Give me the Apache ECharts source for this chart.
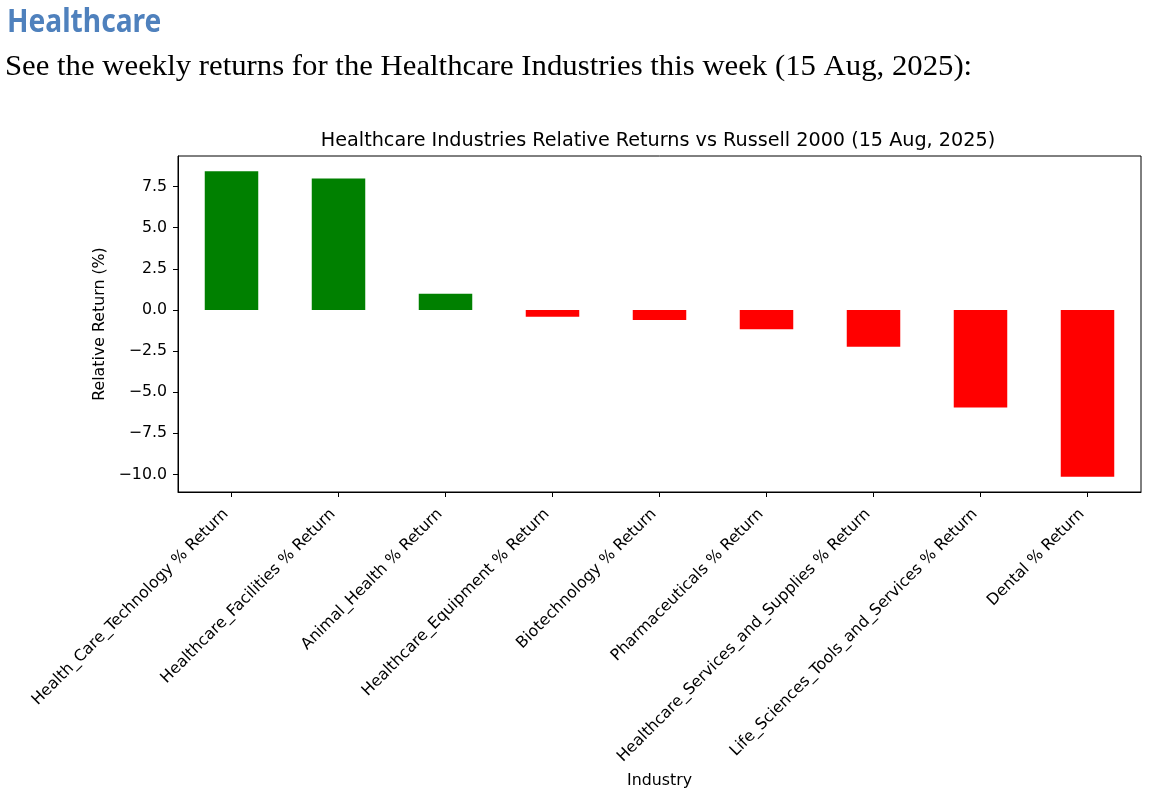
<!DOCTYPE html>
<html>
<head>
<meta charset="utf-8">
<script src="https://cdn.jsdelivr.net/npm/echarts@6/dist/echarts.min.js"></script>
<style>
html,body{margin:0;padding:0;background:#fff;}
#chart{width:1150px;height:798px;}
</style>
</head>
<body>
<div id="chart"></div>
<script>
const categories = [
  "Health_Care_Technology % Return",
  "Healthcare_Facilities % Return",
  "Animal_Health % Return",
  "Healthcare_Equipment % Return",
  "Biotechnology % Return",
  "Pharmaceuticals % Return",
  "Healthcare_Services_and_Supplies % Return",
  "Life_Sciences_Tools_and_Services % Return",
  "Dental % Return"
];
const relativeReturns = [8.43, 7.99, 0.98, -0.41, -0.61, -1.18, -2.24, -5.93, -10.14];
const yTickValues = [-10, -7.5, -5, -2.5, 0, 2.5, 5, 7.5];

const dataMax = Math.max(...relativeReturns);
const dataMin = Math.min(...relativeReturns);
const margin = (dataMax - dataMin) * 0.05;

const chart = echarts.init(document.getElementById('chart'), null, {renderer: 'canvas'});
const fmt = v => (v < 0 ? '\u2212' : '') + Math.abs(v).toFixed(1);
const LBL = 15.8;

chart.setOption({
  animation: false,
  backgroundColor: '#fff',
  graphic: [
    {type: 'text', x: 7, y: 23, scaleX: 0.88,
     style: {text: 'Healthcare', x: 0, y: 0, font: 'bold 32px "Noto Sans"', fill: '#4f81bd', verticalAlign: 'middle'}},
    {type: 'text', x: 5, y: 67, scaleX: 1.06,
     style: {text: 'See the weekly returns for the Healthcare Industries this week (15 Aug, 2025):', x: 0, y: 0,
             font: '29px "Liberation Serif"', fill: '#000', verticalAlign: 'middle'}}
  ],
  title: [
    {text: 'Healthcare Industries Relative Returns vs Russell 2000 (15 Aug, 2025)', left: 653, top: 127, textAlign: 'center',
     textStyle: {fontFamily: 'DejaVu Sans', fontWeight: 'normal', fontSize: 19.2, color: '#000'}}
  ],
  grid: {left: 178, right: 9, top: 156, bottom: 306, show: true, borderColor: '#000', borderWidth: 1, backgroundColor: 'transparent'},
  xAxis: {
    type: 'category',
    data: categories,
    name: 'Industry',
    nameLocation: 'middle',
    nameGap: 281,
    nameTextStyle: {fontFamily: 'DejaVu Sans', fontSize: LBL, color: '#000'},
    axisLine: {show: true, onZero: false, lineStyle: {color: '#000', width: 1}},
    axisTick: {show: true, alignWithLabel: true, length: 5, lineStyle: {color: '#000'}},
    axisLabel: {rotate: 45, interval: 0, margin: 14, padding: [0, 8, 0, 0], fontFamily: 'DejaVu Sans', fontSize: LBL, color: '#000'},
    splitLine: {show: false}
  },
  yAxis: {
    type: 'value',
    min: dataMin - margin,
    max: dataMax + margin,
    name: 'Relative Return (%)',
    nameLocation: 'middle',
    nameRotate: 90,
    nameGap: 62,
    nameTextStyle: {fontFamily: 'DejaVu Sans', fontSize: LBL, color: '#000'},
    axisLine: {show: true, onZero: false, lineStyle: {color: '#000', width: 1}},
    axisTick: {show: true, length: 5, lineStyle: {color: '#000'}, customValues: yTickValues},
    axisLabel: {fontFamily: 'DejaVu Sans', fontSize: LBL, color: '#000', margin: 11, customValues: yTickValues, formatter: fmt},
    splitLine: {show: false}
  },
  series: [{
    type: 'bar',
    barWidth: '50%',
    data: relativeReturns.map(v => ({value: v, itemStyle: {color: v >= 0 ? '#008000' : '#ff0000'}}))
  }]
});
</script>
</body>
</html>
